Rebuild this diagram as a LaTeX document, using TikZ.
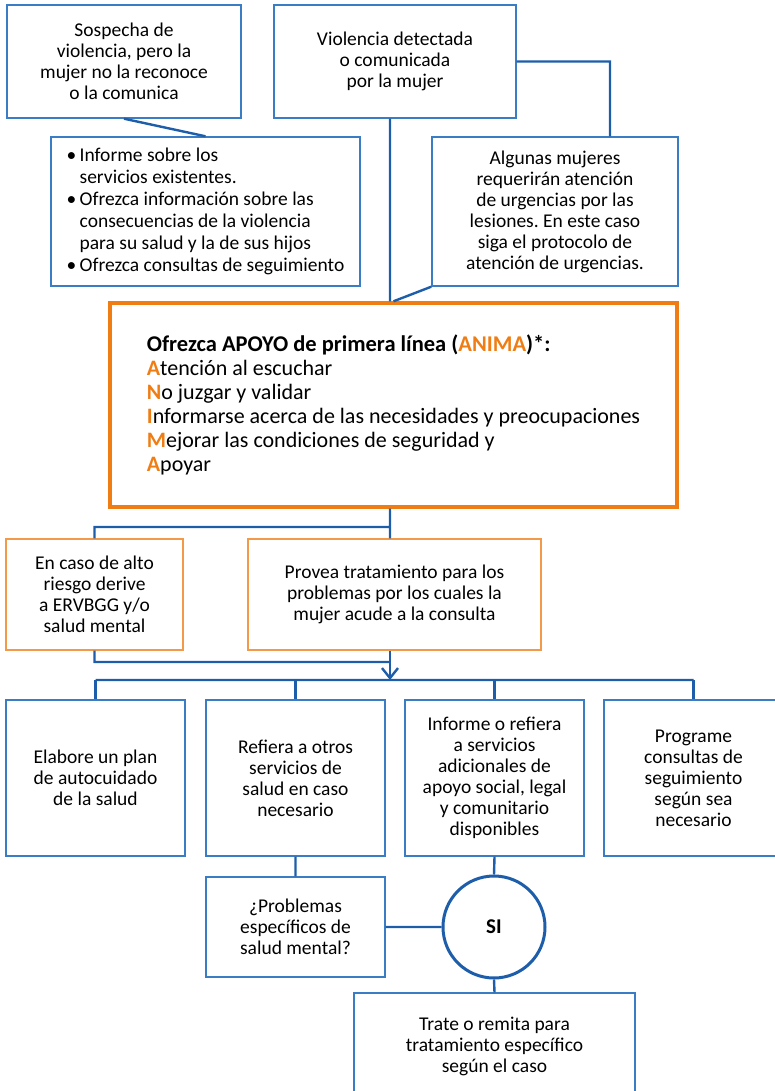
\documentclass[tikz,border=0pt]{standalone}
\usepackage{fontspec}
\setmainfont{Carlito}
\frenchspacing
\usetikzlibrary{positioning, arrows.meta}
\definecolor{azul}{HTML}{3B7DC4}
\definecolor{azuloscuro}{HTML}{1D5DAA}
\definecolor{naranja}{HTML}{EF7D14}
\definecolor{naranjaclaro}{HTML}{F39A4A}
\tikzset{
    x=1pt, y=-1pt, % one unit is one pixel of the page
    >={Straight Barb[length=10pt,width=16pt]}, % open arrow head
    caja/.style={draw=azul, line width=1.4pt, align=center, inner sep=4pt,
        font=\fontsize{19.5}{21}\selectfont}, % sets the properties of each box
    caja naranja/.style={caja, draw=naranjaclaro}, % the two orange boxes
    caja anima/.style={draw=naranja, line width=3.4pt, align=left,
        font=\fontsize{22}{24}\selectfont}, % the big box in the middle
    linea/.style={draw=azuloscuro, line width=2.4pt}, % the connectors
}
\newcommand{\letra}[1]{\textcolor{naranja}{\bfseries #1}}
\newcommand{\punto}{\makebox[13pt][l]{\textbullet}}

\begin{document}
\begin{tikzpicture}
\useasboundingbox (0,0) rectangle (775,1091);
\node[caja, minimum width=234pt, minimum height=113pt] (sosp) at (124,61.5)
    {Sospecha de\\violencia, pero la\\mujer no la reconoce\\o la comunica};
\node[caja, minimum width=242pt, minimum height=113pt] (detec) at (395,61.5)
    {Violencia detectada\\o comunicada\\por la mujer};
\node[caja, align=left, minimum width=309pt, minimum height=149pt,
    font=\fontsize{19.5}{22}\selectfont] (info) at (205.5,211.5)
    {\punto Informe sobre los\\
     \hspace*{13pt}servicios existentes.\\
     \punto Ofrezca información sobre las\\
     \hspace*{13pt}consecuencias de la violencia\\
     \hspace*{13pt}para su salud y la de sus hijos\\
     \punto Ofrezca consultas de seguimiento};
\node[caja, minimum width=246pt, minimum height=149pt] (urg) at (555,211.5)
    {Algunas mujeres\\requerirán atención\\de urgencias por las\\lesiones. En este caso\\siga el protocolo de\\atención de urgencias.};
\node[caja anima, minimum width=567pt, minimum height=204pt] (anima) at (393.5,405)
    {{\fontsize{22.5}{24}\selectfont\bfseries Ofrezca APOYO de primera línea (\textcolor{naranja}{ANIMA})*:}\\
     \letra{A}tención al escuchar\\
     \letra{N}o juzgar y validar\\
     \letra{I}nformarse acerca de las necesidades y preocupaciones\\
     \letra{M}ejorar las condiciones de seguridad y\\
     \letra{A}poyar};
\node[caja naranja, minimum width=177pt, minimum height=111pt] (alto) at (94.5,594.5)
    {En caso de alto\\riesgo derive\\a ERVBGG y/o\\salud mental};
\node[caja naranja, minimum width=293pt, minimum height=111pt] (provea) at (394.5,594.5)
    {Provea tratamiento para los\\problemas por los cuales la\\mujer acude a la consulta};
\node[caja, minimum width=179pt, minimum height=156pt] (plan) at (95.5,778)
    {Elabore un plan\\de autocuidado\\de la salud};
\node[caja, minimum width=179pt, minimum height=156pt] (refiera) at (295.5,778)
    {Refiera a otros\\servicios de\\salud en caso\\necesario};
\node[caja, minimum width=179pt, minimum height=156pt] (informe) at (494.5,778)
    {Informe o refiera\\a servicios\\adicionales de\\apoyo social, legal\\y comunitario\\disponibles};
\node[caja, minimum width=179pt, minimum height=156pt] (programe) at (693.5,778)
    {Programe\\consultas de\\seguimiento\\según sea\\necesario};
\node[caja, minimum width=179pt, minimum height=100pt] (problemas) at (295.5,927)
    {¿Problemas\\específicos de\\salud mental?};
\node[circle, draw=azuloscuro, line width=3pt, minimum size=102pt, inner sep=0pt,
    font=\fontsize{21}{24}\selectfont\bfseries] (si) at (494,927) {SI};
\node[caja, minimum width=281pt, minimum height=106pt] (trate) at (494.5,1046)
    {Trate o remita para\\tratamiento específico\\según el caso};
\coordinate (j1)  at (390,527);
\coordinate (j2)  at (390,662);
\coordinate (bus) at (390,680);
\draw[linea]
(sosp.south)         -- (info.north)
(detec.east)         -| ([xshift=55pt]urg.north)
(detec.south -| j1)  -- (anima.north -| j1)
(urg.south west)     -- (anima.north)
(anima.south -| j1)  -- (provea.north -| j1)
(j1)                 -| (alto.north)
(alto.south)         |- (j2)
(plan.north |- bus)  -- (programe.north |- bus)
(refiera.south)      -- (problemas.north)
(informe.south)      -- (si.north)
(problemas.east)     -- (si.west)
(si.south)           -- (trate.north);
\draw[linea, ->] (provea.south -| j1) -- (bus);
\foreach \n in {plan, refiera, informe, programe}
    \draw[linea] (\n.north |- bus) -- (\n.north);
\end{tikzpicture}
\end{document}
